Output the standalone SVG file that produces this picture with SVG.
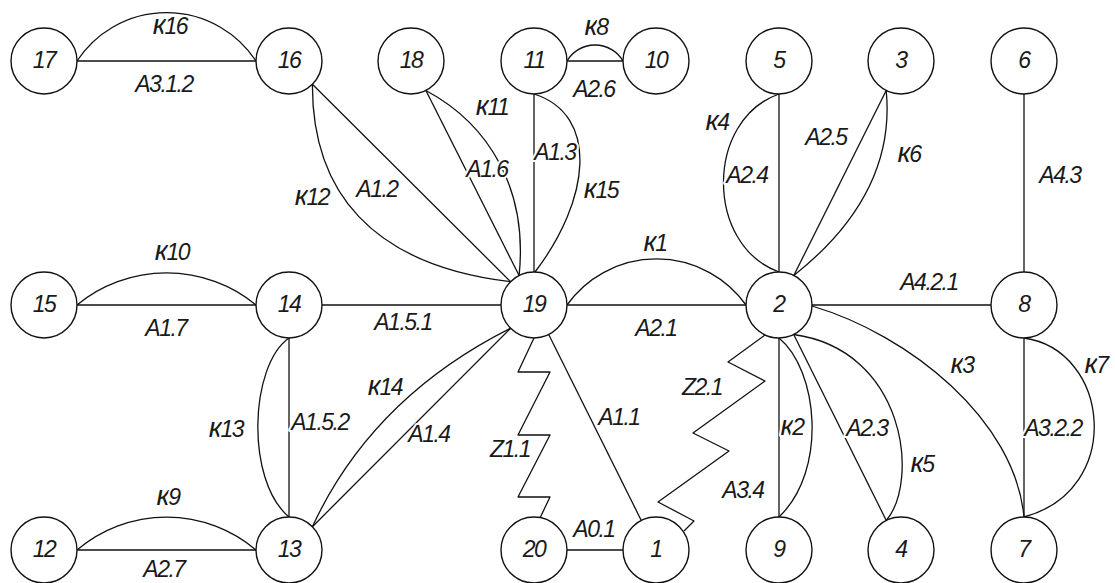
<svg xmlns="http://www.w3.org/2000/svg" width="1115" height="583" viewBox="0 0 1115 583">
  <style>
    .e { fill: none; stroke: #111; stroke-width: 1.3; stroke-linejoin: round; }
    .n circle { fill: #fff; stroke: #111; stroke-width: 1.4; }
    text { font-family: "Liberation Sans", Arial, sans-serif; font-style: italic; font-size: 23px; fill: #1a1a1a; text-anchor: middle; }
    .n text { letter-spacing: -1.5px; }
    .lbl text { letter-spacing: -1.5px; stroke: #fff; stroke-width: 4; paint-order: stroke; stroke-linejoin: round; }
    .k { font-size: 28px; }
  </style>
  <rect width="1115" height="583" fill="#fff"/>

  <!-- connectors -->
  <g id="connectors">
    <!-- horizontal links -->
    <path class="e" d="M77 61 H256"/>
    <path class="e" d="M77 61 A107 107 0 0 1 256 61"/>
    <path class="e" d="M567 61 H623"/>
    <path class="e" d="M567 61 A32.5 32.5 0 0 1 623 61"/>
    <path class="e" d="M77 305 H256"/>
    <path class="e" d="M77 305 A141 141 0 0 1 256 305"/>
    <path class="e" d="M322 305 H501"/>
    <path class="e" d="M567 305 H746"/>
    <path class="e" d="M567 305 A110 110 0 0 1 746 305"/>
    <path class="e" d="M812 305 H991"/>
    <path class="e" d="M77 550 H256"/>
    <path class="e" d="M77 550 A138 138 0 0 1 256 550"/>
    <path class="e" d="M567 550 H623"/>
    <!-- vertical links -->
    <path class="e" d="M534 94 V272"/>
    <path class="e" d="M779 94 V272"/>
    <path class="e" d="M1024 94 V272"/>
    <path class="e" d="M289 338 V517"/>
    <path class="e" d="M779 338 V517"/>
    <path class="e" d="M1024 338 V517"/>
    <!-- diagonal links -->
    <path class="e" d="M312.4 84.3 L510.6 281.7"/>
    <path class="e" d="M425.9 90.5 L519.1 275.5"/>
    <path class="e" d="M548.7 334.5 L641.3 520.5"/>
    <path class="e" d="M312.4 526.7 L510.6 328.3"/>
    <path class="e" d="M886.2 90.5 L793.8 275.5"/>
    <path class="e" d="M793.7 334.5 L886.3 520.5"/>
    <!-- curved links -->
    <path class="e" d="M312.4 84.3 C312 190 370 265 510.6 281.7"/>
    <path class="e" d="M425.9 90.5 C490 125 528 190 519.1 275.5"/>
    <path class="e" d="M534 94 C600 115 590 200 535 272"/>
    <path class="e" d="M779 94 C705 120 705 245 779 272"/>
    <path class="e" d="M886.2 90.5 C892 150 870 215 793.8 275.5"/>
    <path class="e" d="M312.4 526.7 Q372 398 510.6 328.3"/>
    <path class="e" d="M289 338 C250 365 245 480 289 517"/>
    <path class="e" d="M779 338 C818 370 828 470 779 517"/>
    <path class="e" d="M793.7 334.5 C905 350 920 480 886.3 520.5"/>
    <path class="e" d="M812 306 C910 335 1015 420 1024 517"/>
    <path class="e" d="M1024 338 C1110 350 1125 490 1024 517"/>
    <!-- zigzag links -->
    <polyline class="e" points="534,338 518,372 550,372 518,435 550,435 518,497 550,497 540,518"/>
    <polyline class="e" points="765,335 728,362 765,381 693,433 729,451 658,502 694,521 684,531"/>
  </g>

  <!-- nodes -->
  <g id="node-17" class="n"><circle cx="44" cy="61" r="33"/><text x="44" y="68">17</text></g>
  <g id="node-16" class="n"><circle cx="289" cy="61" r="33"/><text x="289" y="68">16</text></g>
  <g id="node-18" class="n"><circle cx="411" cy="61" r="33"/><text x="411" y="68">18</text></g>
  <g id="node-11" class="n"><circle cx="534" cy="61" r="33"/><text x="534" y="68">11</text></g>
  <g id="node-10" class="n"><circle cx="656" cy="61" r="33"/><text x="656" y="68">10</text></g>
  <g id="node-5" class="n"><circle cx="779" cy="61" r="33"/><text x="779" y="68">5</text></g>
  <g id="node-3" class="n"><circle cx="901" cy="61" r="33"/><text x="901" y="68">3</text></g>
  <g id="node-6" class="n"><circle cx="1024" cy="61" r="33"/><text x="1024" y="68">6</text></g>
  <g id="node-15" class="n"><circle cx="44" cy="305" r="33"/><text x="44" y="312">15</text></g>
  <g id="node-14" class="n"><circle cx="289" cy="305" r="33"/><text x="289" y="312">14</text></g>
  <g id="node-19" class="n"><circle cx="534" cy="305" r="33"/><text x="534" y="312">19</text></g>
  <g id="node-2" class="n"><circle cx="779" cy="305" r="33"/><text x="779" y="312">2</text></g>
  <g id="node-8" class="n"><circle cx="1024" cy="305" r="33"/><text x="1024" y="312">8</text></g>
  <g id="node-12" class="n"><circle cx="44" cy="550" r="33"/><text x="44" y="557">12</text></g>
  <g id="node-13" class="n"><circle cx="289" cy="550" r="33"/><text x="289" y="557">13</text></g>
  <g id="node-20" class="n"><circle cx="534" cy="550" r="33"/><text x="534" y="557">20</text></g>
  <g id="node-1" class="n"><circle cx="656" cy="550" r="33"/><text x="656" y="557">1</text></g>
  <g id="node-9" class="n"><circle cx="779" cy="550" r="33"/><text x="779" y="557">9</text></g>
  <g id="node-4" class="n"><circle cx="901" cy="550" r="33"/><text x="901" y="557">4</text></g>
  <g id="node-7" class="n"><circle cx="1024" cy="550" r="33"/><text x="1024" y="557">7</text></g>

  <!-- link labels -->
  <g id="link-labels" class="lbl">
    <text x="170" y="34"><tspan class="k">к</tspan>16</text>
    <text x="164" y="92">A3.1.2</text>
    <text x="596" y="35"><tspan class="k">к</tspan>8</text>
    <text x="594" y="97">A2.6</text>
    <text x="312" y="205"><tspan class="k">к</tspan>12</text>
    <text x="377" y="197">A1.2</text>
    <text x="492" y="115"><tspan class="k">к</tspan>11</text>
    <text x="487" y="177">A1.6</text>
    <text x="555" y="160">A1.3</text>
    <text x="601" y="198"><tspan class="k">к</tspan>15</text>
    <text x="717" y="130"><tspan class="k">к</tspan>4</text>
    <text x="747" y="183">A2.4</text>
    <text x="826" y="145">A2.5</text>
    <text x="909" y="162"><tspan class="k">к</tspan>6</text>
    <text x="1060" y="183">A4.3</text>
    <text x="172" y="260"><tspan class="k">к</tspan>10</text>
    <text x="166" y="336">A1.7</text>
    <text x="403" y="330">A1.5.1</text>
    <text x="655" y="251"><tspan class="k">к</tspan>1</text>
    <text x="656" y="336">A2.1</text>
    <text x="929" y="290">A4.2.1</text>
    <text x="962" y="373"><tspan class="k">к</tspan>3</text>
    <text x="1096" y="373"><tspan class="k">к</tspan>7</text>
    <text x="385" y="395"><tspan class="k">к</tspan>14</text>
    <text x="429" y="442">A1.4</text>
    <text x="226" y="437"><tspan class="k">к</tspan>13</text>
    <text x="320" y="430">A1.5.2</text>
    <text x="510" y="457">Z1.1</text>
    <text x="619" y="425">A1.1</text>
    <text x="702" y="395">Z2.1</text>
    <text x="792" y="435"><tspan class="k">к</tspan>2</text>
    <text x="743" y="498">A3.4</text>
    <text x="867" y="436">A2.3</text>
    <text x="922" y="472"><tspan class="k">к</tspan>5</text>
    <text x="1053" y="436">A3.2.2</text>
    <text x="168" y="505"><tspan class="k">к</tspan>9</text>
    <text x="164" y="577">A2.7</text>
    <text x="594" y="537">A0.1</text>
  </g>
</svg>
